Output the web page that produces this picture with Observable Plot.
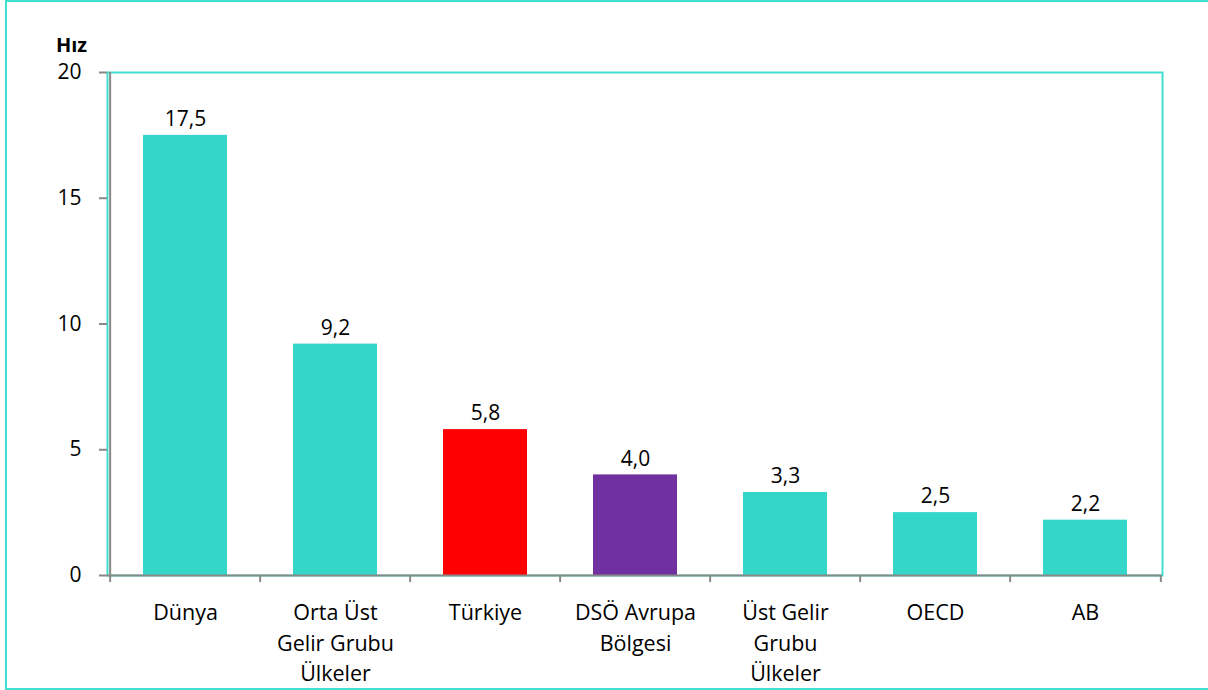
<!DOCTYPE html>
<html>
<head>
<meta charset="utf-8">
<script src="https://cdn.jsdelivr.net/npm/d3@7"></script>
<script src="https://cdn.jsdelivr.net/npm/@observablehq/plot@0.6"></script>
<style>
  html, body { margin: 0; padding: 0; background: #fff; }
  #wrap { position: relative; width: 1208px; height: 690px; overflow: hidden; }
  #border { position: absolute; left: 5px; top: 0px; width: 1210px; height: 686px; border: 2px solid #40E0D0; pointer-events: none; box-sizing: content-box; }
</style>
</head>
<body>
<div id="wrap"><div id="border"></div></div>
<script>
const categories = ["Dünya", "Orta Üst\nGelir Grubu\nÜlkeler", "Türkiye", "DSÖ Avrupa\nBölgesi", "Üst Gelir\nGrubu\nÜlkeler", "OECD", "AB"];
const values = [17.5, 9.2, 5.8, 4.0, 3.3, 2.5, 2.2];
const labels = ["17,5", "9,2", "5,8", "4,0", "3,3", "2,5", "2,2"];
const colors = ["#33D6C9", "#33D6C9", "#FF0000", "#7030A0", "#33D6C9", "#33D6C9", "#33D6C9"];
const yTicks = [0, 5, 10, 15, 20];

const data = categories.map((c, i) => ({cat: c, value: values[i], label: labels[i], color: colors[i]}));

const W = 1208, H = 690, mL = 107, mR = 46, mT = 72, mB = 115;
const step = (W - mL - mR) / categories.length;
const teal = "#40E0D0", grey = "#898989";
const font = "'Open Sans', sans-serif";

const chart = Plot.plot({
  width: W, height: H,
  marginLeft: mL, marginRight: mR, marginTop: mT, marginBottom: mB,
  style: {fontFamily: font, fontSize: "21px", color: "#000", background: "transparent"},
  x: {domain: categories, paddingInner: 0.443, paddingOuter: 0.2215, axis: null},
  y: {domain: [0, 20], axis: null},
  marks: [
    Plot.frame({stroke: teal, strokeWidth: 2}),
    Plot.barY(data, {x: "cat", y: "value", fill: "color"}),
    Plot.ruleY([0], {stroke: grey, strokeWidth: 2}),
    Plot.axisY({ticks: yTicks, tickSize: 8, tickPadding: 18, stroke: grey, strokeWidth: 2, fill: "#000", fontSize: 21, label: null, tickFormat: d => String(d)}),
    Plot.ruleX(categories, {x: d => d, dx: -step / 2, y1: 0, y2: -0.28, stroke: grey, strokeWidth: 2}),
    Plot.ruleX([categories[categories.length - 1]], {x: d => d, dx: step / 2, y1: 0, y2: -0.28, stroke: grey, strokeWidth: 2}),
    Plot.ruleX(categories.slice(0,1), {x: d => d, dx: -step / 2, y1: 0, y2: 20, stroke: grey, strokeWidth: 2}),
    Plot.text(data, {x: "cat", y: "value", text: "label", dy: -16, fontSize: 21, fill: "#000"}),
    Plot.text(data, {x: "cat", y: 0, text: "cat", lineAnchor: "top", dy: 23, lineHeight: 1.42, fontSize: 21.5, fill: "#000"}),
    Plot.text(["Hız"], {frameAnchor: "top-left", text: d => d, textAnchor: "middle", dx: -36, dy: -35, fontWeight: "bold", fontSize: 20, fill: "#000"})
  ]
});
document.getElementById("wrap").prepend(chart);
</script>
</body>
</html>
